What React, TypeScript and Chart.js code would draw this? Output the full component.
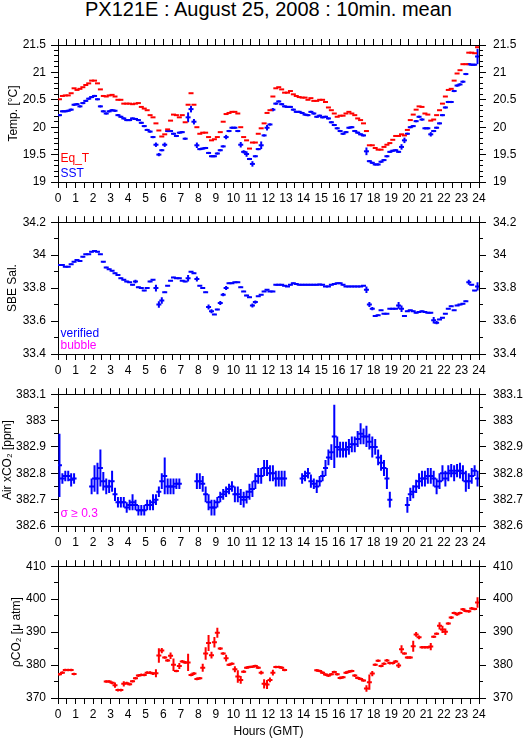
import React, { useEffect, useRef } from 'react';
import { Chart, registerables } from 'chart.js';

Chart.register(...registerables);

const FONT = "'Liberation Sans', Arial, Helvetica, sans-serif";
Chart.defaults.font.family = FONT;
Chart.defaults.font.size = 12;
Chart.defaults.color = '#000';

const RED = '#ff0000';
const BLUE = '#0000ff';
const MAGENTA = '#ff00ff';

// ---- axis labels ----
const HOUR_LABELS = ['0', '1', '2', '3', '4', '5', '6', '7', '8', '9', '10', '11', '12', '13', '14', '15', '16', '17', '18', '19', '20', '21', '22', '23', '24'];
const HALF_HOUR_TICKS = HOUR_LABELS.flatMap((_, h) => (h < 24 ? [h, h + 0.5] : [h]));
const TEMP_TICKS = [19, 19.5, 20, 20.5, 21, 21.5];
const SAL_TICKS = [33.4, 33.6, 33.8, 34, 34.2];
const XCO2_TICKS = [382.6, 382.7, 382.8, 382.9, 383, 383.1];
const PCO2_TICKS = [370, 380, 390, 400, 410];

// centre of each 10-minute bin (hours)
const BIN_HOURS = Array.from({ length: 144 }, (_, i) => (i + 0.5) / 6);

// ---- data (10-min means, one row per hour) ----
const EQ_T = [
  20.51, 20.57, 20.58, 20.58, 20.62, 20.71,
  20.68, 20.70, 20.73, 20.77, 20.80, 20.85,
  20.85, 20.80, 20.69, 20.57, 20.56, 20.58,
  20.59, 20.56, 20.50, 20.50, 20.43, 20.43,
  20.43, 20.42, 20.43, 20.44, 20.37, 20.34,
  20.31, 20.22, 20.18, 20.07, 19.94, 19.83,
  19.87, 19.96, 20.12, 20.23, 20.22, 20.18,
  20.22, 20.09, 20.41, 20.62, 20.41, 20.00,
  19.88, 19.90, 19.90, 19.82, 19.76, 19.78,
  19.82, 19.91, 20.10, 20.24, 20.26, 20.28,
  20.28, 20.25, 20.00, 19.82, 19.76, 19.61,
  19.72, 19.72, 19.88, 19.98, 20.07, 20.26,
  20.31, 20.56, 20.71, 20.73, 20.69, 20.63,
  20.63, 20.66, 20.60, 20.57, 20.55, 20.54,
  20.54, 20.50, 20.53, 20.48, 20.48, 20.50,
  20.50, 20.46, 20.36, 20.31, 20.25, 20.19,
  20.21, 20.21, 20.25, 20.28, 20.25, 20.22,
  20.16, 20.13, 20.07, 19.93, 19.67, 19.67,
  19.62, 19.59, 19.59, 19.64, 19.68, 19.71,
  19.77, 19.84, 19.84, 19.87, 19.85, 19.95,
  20.13, 20.23, 20.32, 20.38, 20.37, 20.25,
  20.23, 20.12, 20.14, 20.22, 20.31, 20.43,
  20.56, 20.68, 20.70, 20.85, 20.98, 21.04,
  21.15, 21.15, 21.36, 21.36, 21.35, 21.46,
];

const SST = [
  20.22, 20.29, 20.29, 20.30, 20.32, 20.41,
  20.42, 20.38, 20.44, 20.48, 20.52, 20.55,
  20.57, 20.51, 20.38, 20.29, 20.25, 20.29,
  20.31, 20.30, 20.22, 20.19, 20.16, 20.13,
  20.13, 20.16, 20.15, 20.13, 20.08, 20.02,
  19.95, 19.92, 19.82, 19.68, 19.50, 19.58,
  19.68, 19.93, 19.93, 19.88, 19.84, 19.90,
  19.91, 19.79, 20.18, 20.33, 20.10, 19.67,
  19.60, 19.61, 19.62, 19.53, 19.47, 19.47,
  19.52, 19.58, 19.65, 19.82, 19.93, 19.99,
  19.99, 19.93, 19.68, 19.55, 19.51, 19.42,
  19.33, 19.47, 19.60, 19.67, 19.85, 19.99,
  20.05, 20.32, 20.43, 20.47, 20.42, 20.38,
  20.37, 20.37, 20.32, 20.28, 20.28, 20.26,
  20.23, 20.22, 20.28, 20.25, 20.19, 20.21,
  20.18, 20.19, 20.16, 20.09, 20.04, 19.98,
  19.93, 19.88, 19.91, 19.99, 20.00, 19.93,
  19.90, 19.87, 19.85, 19.56, 19.38, 19.35,
  19.32, 19.32, 19.37, 19.40, 19.47, 19.55,
  19.57, 19.58, 19.55, 19.64, 19.76, 19.88,
  20.00, 20.02, 20.11, 20.19, 20.14, 19.98,
  19.98, 19.87, 19.93, 19.99, 20.07, 20.22,
  20.36, 20.46, 20.46, 20.66, 20.76, 20.78,
  20.83, 20.97, 21.15, 21.14, 21.14, 21.29,
];
const SST_ERR_TYPICAL = 0.02;
const SST_ERR_LARGE: [number, number][] = [
  [33, 0.04], [34, 0.03], [36, 0.04], [44, 0.09], [45, 0.06], [46, 0.05], [47, 0.05],
  [57, 0.04], [62, 0.05], [63, 0.03], [64, 0.05], [66, 0.05], [69, 0.07], [71, 0.05],
  [73, 0.03], [105, 0.07], [117, 0.05], [118, 0.05], [127, 0.04], [143, 0.14],
];

const SAL = [
  33.940, 33.940, 33.930, 33.930, 33.945, 33.960,
  33.970, 33.965, 33.990, 34.005, 34.005, 34.020,
  34.025, 34.020, 34.005, 33.960, 33.925, 33.915,
  33.905, 33.890, 33.880, 33.860, 33.850, 33.840,
  33.835, 33.820, 33.840, 33.805, 33.800, 33.785,
  33.800, 33.840, 33.850, 33.800, 33.700, 33.725,
  33.775, 33.815, 33.845, 33.865, 33.860, 33.860,
  33.845, 33.840, 33.860, 33.900, 33.890, 33.855,
  33.815, 33.800, 33.775, 33.685, 33.660, 33.640,
  33.670, 33.710, 33.760, 33.800, 33.830, 33.830,
  33.835, 33.835, 33.805, 33.780, 33.755, 33.745,
  33.695, 33.715, 33.750, 33.760, 33.780, 33.790,
  33.780, 33.780, 33.820, 33.820, 33.820, 33.815,
  33.810, 33.820, 33.830, 33.825, 33.820, 33.820,
  33.820, 33.820, 33.820, 33.820, 33.820, 33.822,
  33.820, 33.810, 33.810, 33.820, 33.825, 33.830,
  33.830, 33.820, 33.810, 33.810, 33.810, 33.810,
  33.810, 33.810, 33.815, 33.790, 33.700, 33.675,
  33.630, 33.635, 33.665, 33.645, 33.645, 33.675,
  33.675, 33.675, 33.695, 33.675, 33.630, 33.660,
  33.665, 33.660, 33.650, 33.655, 33.660, 33.655,
  33.650, 33.650, 33.605, 33.590, 33.610, 33.620,
  33.645, 33.675, 33.690, 33.665, 33.695, 33.700,
  33.705, 33.720, 33.835, 33.820, 33.785, 33.810,
];
const SAL_ERR_TYPICAL = 0.004;
const SAL_ERR_LARGE: [number, number][] = [
  [26, 0.01], [33, 0.02], [34, 0.02], [35, 0.02], [44, 0.02], [47, 0.015], [51, 0.015],
  [52, 0.012], [55, 0.012], [56, 0.01], [57, 0.012], [66, 0.012], [67, 0.01], [105, 0.02],
  [106, 0.015], [107, 0.01], [116, 0.02], [117, 0.02], [128, 0.02], [129, 0.01], [140, 0.015],
  [143, 0.025],
];

const XCO2 = [
  382.83, 382.78, 382.79, 382.79, 382.775, 382.78,
  null, null, null, null, null, 382.75,
  382.78, 382.78, 382.82, 382.77, 382.75, 382.75,
  382.77, 382.72, 382.69, 382.69, 382.69, 382.67,
  382.68, 382.69, 382.68, 382.66, 382.66, 382.66,
  382.68, 382.68, 382.69, 382.70, 382.73, 382.77,
  382.79, 382.75, 382.75, 382.75, 382.76, 382.76,
  null, null, null, null, null, 382.77,
  382.77, 382.76, 382.72, 382.69, 382.67, 382.67,
  382.69, 382.71, 382.72, 382.73, 382.74, 382.75,
  382.72, 382.72, 382.71, 382.70, 382.71, 382.73,
  382.74, 382.77, 382.79, 382.79, 382.82, 382.82,
  382.80, 382.80, 382.78, 382.78, 382.78, 382.78,
  null, null, null, null, null, 382.78,
  382.79, 382.80, 382.77, 382.76, 382.75, 382.77,
  382.79, 382.82, 382.86, 382.88, 382.94, 382.90,
  382.89, 382.89, 382.89, 382.90, 382.91, 382.91,
  382.93, 382.95, 382.94, 382.94, 382.92, 382.90,
  382.90, 382.86, 382.84, 382.82, 382.78, 382.70,
  null, null, null, null, null, 382.68,
  382.72, 382.73, 382.75, 382.77, 382.78, 382.78,
  382.79, 382.79, 382.78, 382.75, 382.77, 382.80,
  382.78, 382.80, 382.81, 382.80, 382.81, 382.81,
  382.80, 382.77, 382.77, 382.79, 382.81, 382.78,
];
const XCO2_ERR = [
  0.12, 0.02, 0.02, 0.02, 0.025, 0.02,
  null, null, null, null, null, 0.03,
  0.05, 0.06, 0.07, 0.035, 0.03, 0.025,
  0.04, 0.025, 0.02, 0.02, 0.02, 0.02,
  0.02, 0.03, 0.02, 0.02, 0.02, 0.02,
  0.02, 0.02, 0.03, 0.02, 0.02, 0.03,
  0.07, 0.03, 0.03, 0.03, 0.02, 0.02,
  null, null, null, null, null, 0.03,
  0.03, 0.03, 0.03, 0.03, 0.03, 0.03,
  0.02, 0.02, 0.02, 0.02, 0.02, 0.02,
  0.03, 0.03, 0.03, 0.03, 0.025, 0.03,
  0.03, 0.03, 0.03, 0.03, 0.03, 0.03,
  0.03, 0.03, 0.03, 0.03, 0.03, 0.03,
  null, null, null, null, null, 0.02,
  0.02, 0.02, 0.025, 0.02, 0.025, 0.02,
  0.02, 0.03, 0.03, 0.03, 0.12, 0.04,
  0.03, 0.03, 0.03, 0.03, 0.03, 0.03,
  0.03, 0.04, 0.03, 0.04, 0.03, 0.04,
  0.03, 0.03, 0.03, 0.03, 0.04, 0.03,
  null, null, null, null, null, 0.03,
  0.025, 0.025, 0.025, 0.03, 0.03, 0.03,
  0.03, 0.03, 0.03, 0.03, 0.03, 0.03,
  0.03, 0.03, 0.025, 0.03, 0.025, 0.03,
  0.03, 0.04, 0.03, 0.03, 0.02, 0.03,
];

const PCO2 = [
  377.2, 377.7, 378.5, 378.5, 378.5, 377.3,
  null, null, null, null, null, null,
  null, null, null, null, 375.0, 375.0,
  374.6, 373.9, 372.4, 372.4, 374.3, 374.5,
  374.2, 375.1, 376.0, 376.8, 377.0, 377.0,
  377.7, 377.7, 377.4, 377.5, 382.9, 384.4,
  382.3, 381.4, 382.8, 380.1, 378.2, 379.7,
  381.1, 380.8, 380.8, 377.0, 377.4, 375.8,
  376.0, 379.2, 383.5, 386.7, 383.0, 386.9,
  389.8, 385.0, 383.5, 382.1, 380.1, 380.4,
  378.7, 376.5, 375.5, 378.0, 379.2, 379.4,
  379.5, 379.7, 379.2, 377.7, 374.3, 374.1,
  375.5, 377.7, 379.4, 379.4, 379.2, 378.5,
  null, null, null, null, null, null,
  null, null, null, null, 378.4, 378.2,
  377.7, 377.1, 376.8, 377.2, 377.9, 377.2,
  376.1, 376.3, 377.7, 378.0, 378.2, 376.8,
  376.1, 375.8, 375.3, 372.9, 374.8, 377.4,
  380.1, 381.3, 379.7, 380.4, 381.4, 380.6,
  380.6, 381.1, 379.9, 384.8, 383.5, 382.3,
  382.3, 385.7, 389.3, 388.4, 385.4, 385.4,
  385.4, 385.6, 388.6, 389.5, 391.9, 390.8,
  390.1, 392.6, 394.4, 395.8, 395.4, 395.8,
  396.9, 396.4, 396.3, 397.2, 397.0, 399.0,
];
const PCO2_ERR_TYPICAL = 0.4;
const PCO2_ERR_LARGE: [number, number][] = [
  [19, 0.8], [22, 0.8], [33, 1.2], [34, 2.2], [35, 0.8], [38, 1.0], [39, 1.9], [41, 0.9],
  [44, 2.6], [49, 1.2], [50, 1.9], [51, 2.4], [52, 1.0], [53, 1.6], [54, 1.5], [57, 1.0],
  [60, 0.9], [61, 1.9], [62, 1.2], [69, 0.6], [70, 1.4], [71, 1.4], [72, 0.7], [73, 0.9],
  [105, 1.0], [106, 2.3], [107, 0.8], [116, 0.8], [117, 1.2], [121, 1.7], [122, 0.7],
  [123, 0.6], [127, 1.1], [130, 1.1], [131, 1.1], [132, 1.0], [143, 1.6],
];

function errorsFor(values: (number | null)[], typical: number, large: [number, number][]) {
  const out: (number | null)[] = values.map((v) => (v == null ? null : typical));
  large.forEach(([i, e]) => { if (values[i] != null) out[i] = e; });
  return out;
}

type Series = { label: string; values: (number | null)[]; errors: (number | null)[] | null; color: string };
type Note = { text: string; color: string; dy: number };
type PanelSpec = {
  top: number; height: number; topAxis: number; bottomAxis: number;
  min: number; max: number; ticks: number[]; minorStep: number;
  yTitle: string; yTitlePad: number; xTitle?: string;
  series: Series[]; notes: Note[];
};

const PANELS: PanelSpec[] = [
  {
    top: 25, height: 183, topAxis: 20, bottomAxis: 26,
    min: 19, max: 21.5, ticks: TEMP_TICKS, minorStep: 0.1,
    yTitle: 'Temp. [°C]', yTitlePad: 6,
    series: [
      { label: 'Eq_T', values: EQ_T, errors: null, color: RED },
      { label: 'SST', values: SST, errors: errorsFor(SST, SST_ERR_TYPICAL, SST_ERR_LARGE), color: BLUE },
    ],
    notes: [{ text: 'Eq_T', color: RED, dy: 20 }, { text: 'SST', color: BLUE, dy: 5.5 }],
  },
  {
    top: 208, height: 172, topAxis: 9, bottomAxis: 26,
    min: 33.4, max: 34.2, ticks: SAL_TICKS, minorStep: 0.1,
    yTitle: 'SBE Sal.', yTitlePad: 5.6,
    series: [{ label: 'verified', values: SAL, errors: errorsFor(SAL, SAL_ERR_TYPICAL, SAL_ERR_LARGE), color: BLUE }],
    notes: [{ text: 'verified', color: BLUE, dy: 17.5 }, { text: 'bubble', color: MAGENTA, dy: 5 }],
  },
  {
    top: 380, height: 172, topAxis: 9, bottomAxis: 26,
    min: 382.6, max: 383.1, ticks: XCO2_TICKS, minorStep: 0.05,
    yTitle: 'Air xCO₂ [ppm]', yTitlePad: 0.5,
    series: [{ label: 'Air xCO2', values: XCO2, errors: XCO2_ERR, color: BLUE }],
    notes: [{ text: 'σ ≥ 0.3', color: MAGENTA, dy: 9.5 }],
  },
  {
    top: 552, height: 187, topAxis: 8, bottomAxis: 41,
    min: 370, max: 410, ticks: PCO2_TICKS, minorStep: 5,
    yTitle: 'ρCO₂ [μ atm]', yTitlePad: 9, xTitle: 'Hours (GMT)',
    series: [{ label: 'pCO2', values: PCO2, errors: errorsFor(PCO2, PCO2_ERR_TYPICAL, PCO2_ERR_LARGE), color: RED }],
    notes: [],
  },
];

function align(p: number) {
  return Math.round(p - 0.5) + 0.5;
}

function Panel({ spec }: { spec: PanelSpec }) {
  const ref = useRef<HTMLCanvasElement>(null);

  useEffect(() => {
    const canvas = ref.current;
    if (!canvas) return;

    const datasets: any[] = [];
    spec.series.forEach((s) => {
      const pts: any[] = [];
      const bars: any[] = [];
      s.values.forEach((v, i) => {
        if (v == null) return;
        pts.push({ x: BIN_HOURS[i], y: v });
        const e = s.errors ? s.errors[i] : null;
        if (e) bars.push({ x: BIN_HOURS[i], y: [v - e, v + e] });
      });
      if (bars.length) {
        datasets.push({
          type: 'bar', label: s.label + ' σ', data: bars, xAxisID: 'x', yAxisID: 'y',
          backgroundColor: s.color, borderWidth: 0, barThickness: 2, grouped: false, inflateAmount: 0,
        });
      }
      datasets.push({
        type: 'scatter', label: s.label, data: pts, xAxisID: 'x', yAxisID: 'y', showLine: false,
        pointStyle: 'line', pointRadius: 2.5, pointHoverRadius: 2.5, pointBorderWidth: 2,
        pointBorderColor: s.color, pointBackgroundColor: s.color, borderColor: s.color,
      });
    });

    const xTicksSetter = (scale: any) => { scale.ticks = HALF_HOUR_TICKS.map((v) => ({ value: v })); };
    const yTicksSetter = (scale: any) => { scale.ticks = spec.ticks.map((v) => ({ value: v })); };
    const gridOpts = (len: number) => ({
      display: true, drawOnChartArea: false, drawTicks: true, tickLength: len,
      tickColor: '#000', tickWidth: 1, offset: false,
    });
    const border = { display: true, color: '#000', width: 1 };

    const decor = {
      id: 'panelDecor',
      afterDraw(chart: any) {
        const { ctx, chartArea, scales } = chart;
        const y = scales.y;
        ctx.save();
        ctx.strokeStyle = '#000';
        ctx.lineWidth = 1;
        ctx.beginPath();
        const n = Math.round((spec.max - spec.min) / spec.minorStep);
        for (let k = 0; k <= n; k++) {
          const py = align(y.getPixelForValue(spec.min + k * spec.minorStep));
          ctx.moveTo(chartArea.left - 4, py);
          ctx.lineTo(chartArea.left, py);
          ctx.moveTo(chartArea.right, py);
          ctx.lineTo(chartArea.right + 4, py);
        }
        ctx.stroke();
        ctx.font = `12px ${FONT}`;
        ctx.textAlign = 'left';
        ctx.textBaseline = 'alphabetic';
        spec.notes.forEach((nt) => {
          ctx.fillStyle = nt.color;
          ctx.fillText(nt.text, chartArea.left + 2.5, chartArea.bottom - nt.dy);
        });
        ctx.restore();
      },
    };

    const chart = new Chart(canvas, {
      type: 'scatter',
      data: { datasets },
      options: {
        animation: false,
        responsive: false,
        maintainAspectRatio: false,
        devicePixelRatio: 1,
        events: [],
        layout: { padding: 0 },
        plugins: { legend: { display: false }, tooltip: { enabled: false }, title: { display: false } },
        scales: {
          x: {
            type: 'linear', position: 'bottom', min: 0, max: 24, offset: false,
            afterBuildTicks: xTicksSetter,
            ticks: {
              autoSkip: false, maxRotation: 0, minRotation: 0, padding: 3, color: '#000',
              callback: (v: any) => (Number.isInteger(v) ? HOUR_LABELS[v] : ''),
            },
            grid: gridOpts(6), border,
            title: spec.xTitle
              ? { display: true, text: spec.xTitle, color: '#000', padding: 0, font: { size: 12 } }
              : { display: false },
            afterFit: (s: any) => { s.height = spec.bottomAxis; },
          },
          x2: {
            type: 'linear', position: 'top', min: 0, max: 24, offset: false,
            afterBuildTicks: xTicksSetter,
            ticks: { display: false },
            grid: gridOpts(6), border,
            afterFit: (s: any) => { s.height = spec.topAxis; },
          },
          y: {
            type: 'linear', position: 'left', min: spec.min, max: spec.max, beginAtZero: false,
            afterBuildTicks: yTicksSetter,
            ticks: { padding: 5, color: '#000', callback: (v: any) => String(v) },
            grid: gridOpts(7), border,
            title: { display: true, text: spec.yTitle, color: '#000', padding: { top: spec.yTitlePad, bottom: 0 }, font: { size: 12 } },
            afterFit: (s: any) => { s.width = 58; },
          },
          y2: {
            type: 'linear', position: 'right', min: spec.min, max: spec.max, beginAtZero: false,
            afterBuildTicks: yTicksSetter,
            ticks: { padding: 7, color: '#000', callback: (v: any) => String(v) },
            grid: gridOpts(7), border,
            afterFit: (s: any) => { s.width = 50; },
          },
        },
      } as any,
      plugins: [decor],
    });

    return () => chart.destroy();
  }, [spec]);

  return (
    <canvas
      ref={ref}
      width={529}
      height={spec.height}
      style={{ position: 'absolute', left: 0, top: spec.top, width: 529, height: spec.height }}
    />
  );
}

export default function App() {
  return (
    <div style={{ position: 'absolute', left: 0, top: 0, width: 529, height: 739, background: '#fff', fontFamily: FONT }}>
      <div
        style={{
          position: 'absolute', left: 58, top: -1, width: 421, textAlign: 'center',
          fontSize: 20, lineHeight: '21px', color: '#000', whiteSpace: 'nowrap',
        }}
      >
        PX121E : August 25, 2008 : 10min. mean
      </div>
      {PANELS.map((p, k) => (
        <Panel key={k} spec={p} />
      ))}
    </div>
  );
}
